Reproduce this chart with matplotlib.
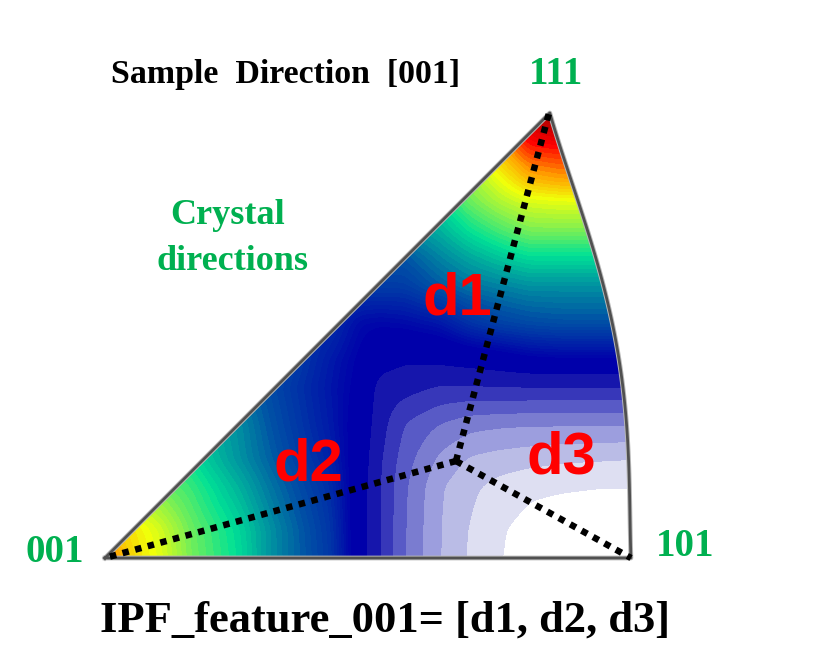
import numpy as np
import matplotlib
matplotlib.use('Agg')
import matplotlib.pyplot as plt
from matplotlib.colors import LinearSegmentedColormap
from matplotlib.path import Path
from matplotlib.patches import PathPatch

# intensity levels, on pixel positions of the source image
x_grid = [90, 105, 130, 160, 190, 240, 270, 330, 360, 380, 405, 440, 470, 500, 530, 560, 600, 640]
y_grid = [100, 123, 147, 180, 200, 230, 257, 285, 323, 360, 387, 425, 460, 487, 530, 570]
levels_100 = [14, 14, 14, 14, 14, 14, 14, 14, 14, 14, 14, 14, 15, 16.5, 18, 18.4, 18.4, 18.4]
levels_123 = [14, 14, 14, 14, 14, 14, 14, 14, 14, 14, 14, 14, 15, 16.2, 17.6, 18, 18, 18]
levels_147 = [14, 14, 14, 14, 14, 14, 14, 14, 14, 14, 14, 14, 14.8, 15.9, 16.9, 17, 17, 17]
levels_180 = [13.6, 13.6, 13.6, 13.6, 13.6, 13.6, 13.6, 13.6, 13.6, 13.6, 13.6, 13.6, 14.2, 15, 15.8, 16, 16, 16]
levels_200 = [13, 13, 13, 13, 13, 13, 13, 13, 13, 13, 13, 13, 13.9, 14.5, 14.9, 15, 15, 15]
levels_230 = [11.9, 11.9, 11.9, 11.9, 11.9, 11.9, 11.9, 11.9, 11.9, 11.9, 11.9, 12.4, 13.1, 13.6, 14, 14, 14, 14]
levels_257 = [11.1, 11.1, 11.1, 11.1, 11.1, 11.1, 11.1, 11.1, 11.1, 11.1, 11.1, 11.8, 12.3, 12.7, 13, 13, 13, 13]
levels_285 = [10.6, 10.6, 10.6, 10.6, 10.6, 10.6, 10.6, 10.6, 10.6, 10.6, 10.6, 11.2, 11.6, 11.8, 12, 12, 12, 12]
levels_323 = [10.6, 10.6, 10.6, 10.6, 10.6, 10.6, 10.6, 10.2, 9.3, 9.2, 9.3, 9.6, 10.3, 10.7, 10.9, 11, 11, 11]
levels_360 = [11, 11, 11, 11, 11, 11, 11.2, 9.7, 9, 8.4, 8.1, 8.2, 8.4, 8.6, 8.9, 9, 9, 9]
levels_387 = [12, 12, 12, 12, 12, 11.5, 10.9, 9.6, 8.9, 7.6, 7.4, 6.9, 6.9, 7, 7, 7, 7, 7]
levels_425 = [13, 13, 13, 13, 12.8, 11.9, 11.1, 9.7, 8.7, 7.4, 5.9, 4.9, 4.3, 4.1, 4, 4, 4, 3.9]
levels_460 = [13.7, 13.7, 13.7, 13.5, 13.1, 12, 11.3, 9.9, 8.6, 7.1, 5.4, 3.7, 2.8, 2.5, 2.3, 2.1, 2, 1.9]
levels_487 = [14.5, 14.5, 14.3, 13.9, 13.5, 12.4, 11.6, 10.2, 8.5, 7, 5.1, 3.1, 2.2, 1.6, 1.2, 1.1, 1, 1]
levels_530 = [15.5, 15.6, 15.4, 14.8, 13.9, 12.9, 12, 10.4, 8.5, 7, 5, 3, 1.9, 1.1, 0.6, 0.4, 0.2, 0.2]
levels_570 = [17, 17, 15.6, 15, 14, 13, 12, 10.5, 8.5, 7, 5, 3, 1.8, 1, 0.5, 0.3, 0, 0]

# right-hand arc of the fundamental triangle
arc_x = [549, 563, 577, 588, 597, 606, 613, 620, 625, 629, 631]
arc_y = [113, 150, 200, 235, 263, 295, 323, 365, 408, 480, 558]
corner_001 = (105, 558)

# the three distances
centre = (456, 461)
corners = {'d1': (549, 113), 'd2': (105, 558), 'd3': (631, 558)}

band_colors = ['#ffffff', '#dedff2', '#babce6', '#9c9ede', '#7a7cd0', '#585ac6', '#3737b9', '#1616ac', '#0000aa']
ramp = LinearSegmentedColormap.from_list('ramp', [
    (0.0, (0, 0, 170 / 255)),
    (2 / 9, (0, 80 / 255, 165 / 255)),
    (3 / 9, (0, 150 / 255, 160 / 255)),
    (4 / 9, (0, 225 / 255, 150 / 255)),
    (5 / 9, (130 / 255, 240 / 255, 80 / 255)),
    (6 / 9, (240 / 255, 255 / 255, 10 / 255)),
    (7 / 9, (255 / 255, 165 / 255, 0)),
    (8 / 9, (255 / 255, 0, 0)),
    (1.0, (170 / 255, 0, 0)),
])

level_grid = np.array([levels_100, levels_123, levels_147, levels_180, levels_200, levels_230,
                       levels_257, levels_285, levels_323, levels_360, levels_387, levels_425,
                       levels_460, levels_487, levels_530, levels_570])


def soften(grid, xs, ys, step=2, width=11):
    # the source picture is a blurred screenshot, so take the edges off the coarse table
    fine_x = np.arange(xs[0], xs[-1] + 1, step)
    fine_y = np.arange(ys[0], ys[-1] + 1, step)
    rows = np.array([np.interp(fine_x, xs, r) for r in grid])
    fine = np.array([np.interp(fine_y, ys, c) for c in rows.T]).T
    kernel = np.hanning(width + 2)[1:-1]
    kernel = kernel / kernel.sum()
    pad = width // 2
    padded = np.pad(fine, pad, mode='edge')
    padded = np.apply_along_axis(lambda v: np.convolve(v, kernel, mode='same'), 0, padded)
    padded = np.apply_along_axis(lambda v: np.convolve(v, kernel, mode='same'), 1, padded)
    return fine_x, fine_y, padded[pad:-pad, pad:-pad]


fig = plt.figure(figsize=(8.3, 6.67), dpi=100)
ax = fig.add_axes([0, 0, 1, 1])
ax.set_xlim(0, 830)
ax.set_ylim(667, 0)
ax.axis('off')

fine_x, fine_y, fine_levels = soften(level_grid, x_grid, y_grid)

steps = np.arange(9, 18.01, 0.15)
bounds = [-1] + list(range(1, 9)) + list(steps)
colors = band_colors[:9] + [ramp((s - 9) / 9) for s in steps[:-1]]
cs = ax.contourf(fine_x, fine_y, fine_levels, levels=bounds, colors=colors, extend='max')
cs.cmap.set_over((170 / 255, 0, 0))
cs.set_edgecolor('face')
cs.set_linewidth(0.4)

# smooth the arc for the outline
fit = np.polyfit(arc_y, arc_x, 4)
edge_y = np.linspace(arc_y[0], arc_y[-1], 80)
edge_x = np.polyval(fit, edge_y)
outline_x = [corner_001[0]] + list(edge_x) + [corner_001[0]]
outline_y = [corner_001[1]] + list(edge_y) + [corner_001[1]]

clip = PathPatch(Path(list(zip(outline_x, outline_y))), transform=ax.transData, fc='none', ec='none')
ax.add_patch(clip)
cs.set_clip_path(clip)

ax.plot(outline_x, outline_y, color='#b8b8b8', lw=3.4, solid_joinstyle='round')
ax.plot(outline_x, outline_y, color='#505050', lw=2.0, solid_joinstyle='round')

for name, corner in corners.items():
    ax.plot([centre[0], corner[0]], [centre[1], corner[1]], color='black', lw=4.7,
            linestyle=(0, (1, 1)), dash_capstyle='butt')

serif = 'Liberation Serif'
green = '#00b050'
ax.text(286, 74, 'Sample  Direction  [001]', family=serif, weight='bold', fontsize=24.4, ha='center', va='center', color='black')
ax.text(556, 74, '111', family=serif, weight='bold', fontsize=28, ha='center', va='center', color=green)
ax.text(55, 552, '001', family=serif, weight='bold', fontsize=28, ha='center', va='center', color=green)
ax.text(685, 546, '101', family=serif, weight='bold', fontsize=28, ha='center', va='center', color=green)
ax.text(228, 216, 'Crystal', family=serif, weight='bold', fontsize=26, ha='center', va='center', color=green)
ax.text(232, 261, 'directions', family=serif, weight='bold', fontsize=26, ha='center', va='center', color=green)
ax.text(385, 621, 'IPF_feature_001= [d1, d2, d3]', family=serif, weight='bold', fontsize=32, ha='center', va='center', color='black')

ax.text(457, 299, 'd1', family='Liberation Sans', weight='bold', fontsize=43, ha='center', va='center', color='#ff0000')
ax.text(308, 465, 'd2', family='Liberation Sans', weight='bold', fontsize=43, ha='center', va='center', color='#ff0000')
ax.text(561, 458, 'd3', family='Liberation Sans', weight='bold', fontsize=43, ha='center', va='center', color='#ff0000')

fig.savefig('out.png', dpi=100)
